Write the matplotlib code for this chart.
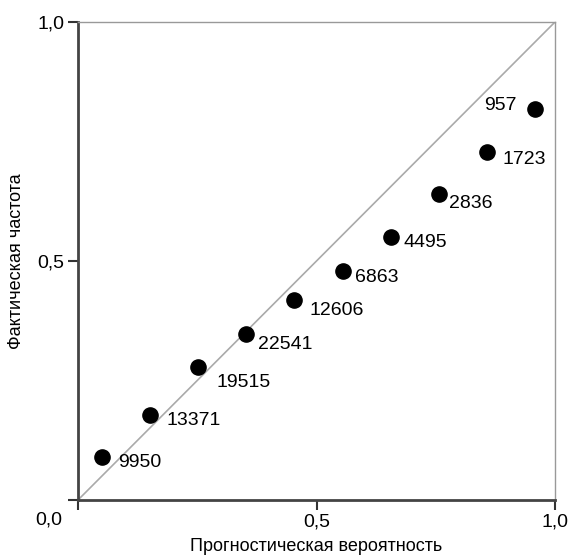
import numpy as np
import matplotlib.pyplot as plt

plt.rcParams['font.family'] = ['Liberation Sans', 'DejaVu Sans']

# прогностическая вероятность / фактическая частота / число случаев
prob = [0.05, 0.151, 0.252, 0.352, 0.453, 0.556, 0.656, 0.757, 0.857, 0.958]
freq = [0.09, 0.178, 0.278, 0.347, 0.418, 0.479, 0.55, 0.64, 0.728, 0.818]
counts = ['9950', '13371', '19515', '22541', '12606', '6863', '4495', '2836', '1723', '957']

# смещение подписей от точки (в пикселях)
label_dx = [16, 16, 18, 12, 15, 12, 13, 10, 16, -18]
label_dy = [-6, -6, -15, -10, -10, -6, -5, -9, -7, 3]

fig = plt.figure(figsize=(5.74, 5.55), dpi=100)
ax = fig.add_axes([78/574, 55/555, 477/574, 478/555])

ax.plot([0, 1], [0, 1], color='#aaaaaa', lw=1.2, zorder=1)
ax.scatter(prob, freq, s=120, color='black', zorder=3)

for x, y, c, dx, dy in zip(prob, freq, counts, label_dx, label_dy):
    ax.annotate(c, (x, y), xytext=(dx, dy), textcoords='offset pixels',
                ha='left' if dx > 0 else 'right', va='center', fontsize=14)

ax.set_xlim(0, 1)
ax.set_ylim(0, 1)
ax.set_xticks([0, 0.5, 1.0])
ax.set_xticklabels(['', '0,5', '1,0'], fontsize=14)
ax.set_yticks([0, 0.5, 1.0])
ax.set_yticklabels(['', '0,5', '1,0'], fontsize=14)
ax.text(-0.034, -0.025, '0,0', transform=ax.transAxes, ha='right', va='top', fontsize=14)

ax.tick_params(length=7, width=1.5, color='#333333', pad=3)
for s in ['left', 'bottom']:
    ax.spines[s].set_linewidth(2)
    ax.spines[s].set_color('#444444')
for s in ['top', 'right']:
    ax.spines[s].set_linewidth(1)
    ax.spines[s].set_color('#999999')

ax.set_xlabel('Прогностическая вероятность', fontsize=13)
ax.xaxis.set_label_coords(0.5, -0.08)
ax.set_ylabel('Фактическая частота', fontsize=13)
ax.yaxis.set_label_coords(-0.112, 0.5)

fig.savefig('out.png', dpi=100)
